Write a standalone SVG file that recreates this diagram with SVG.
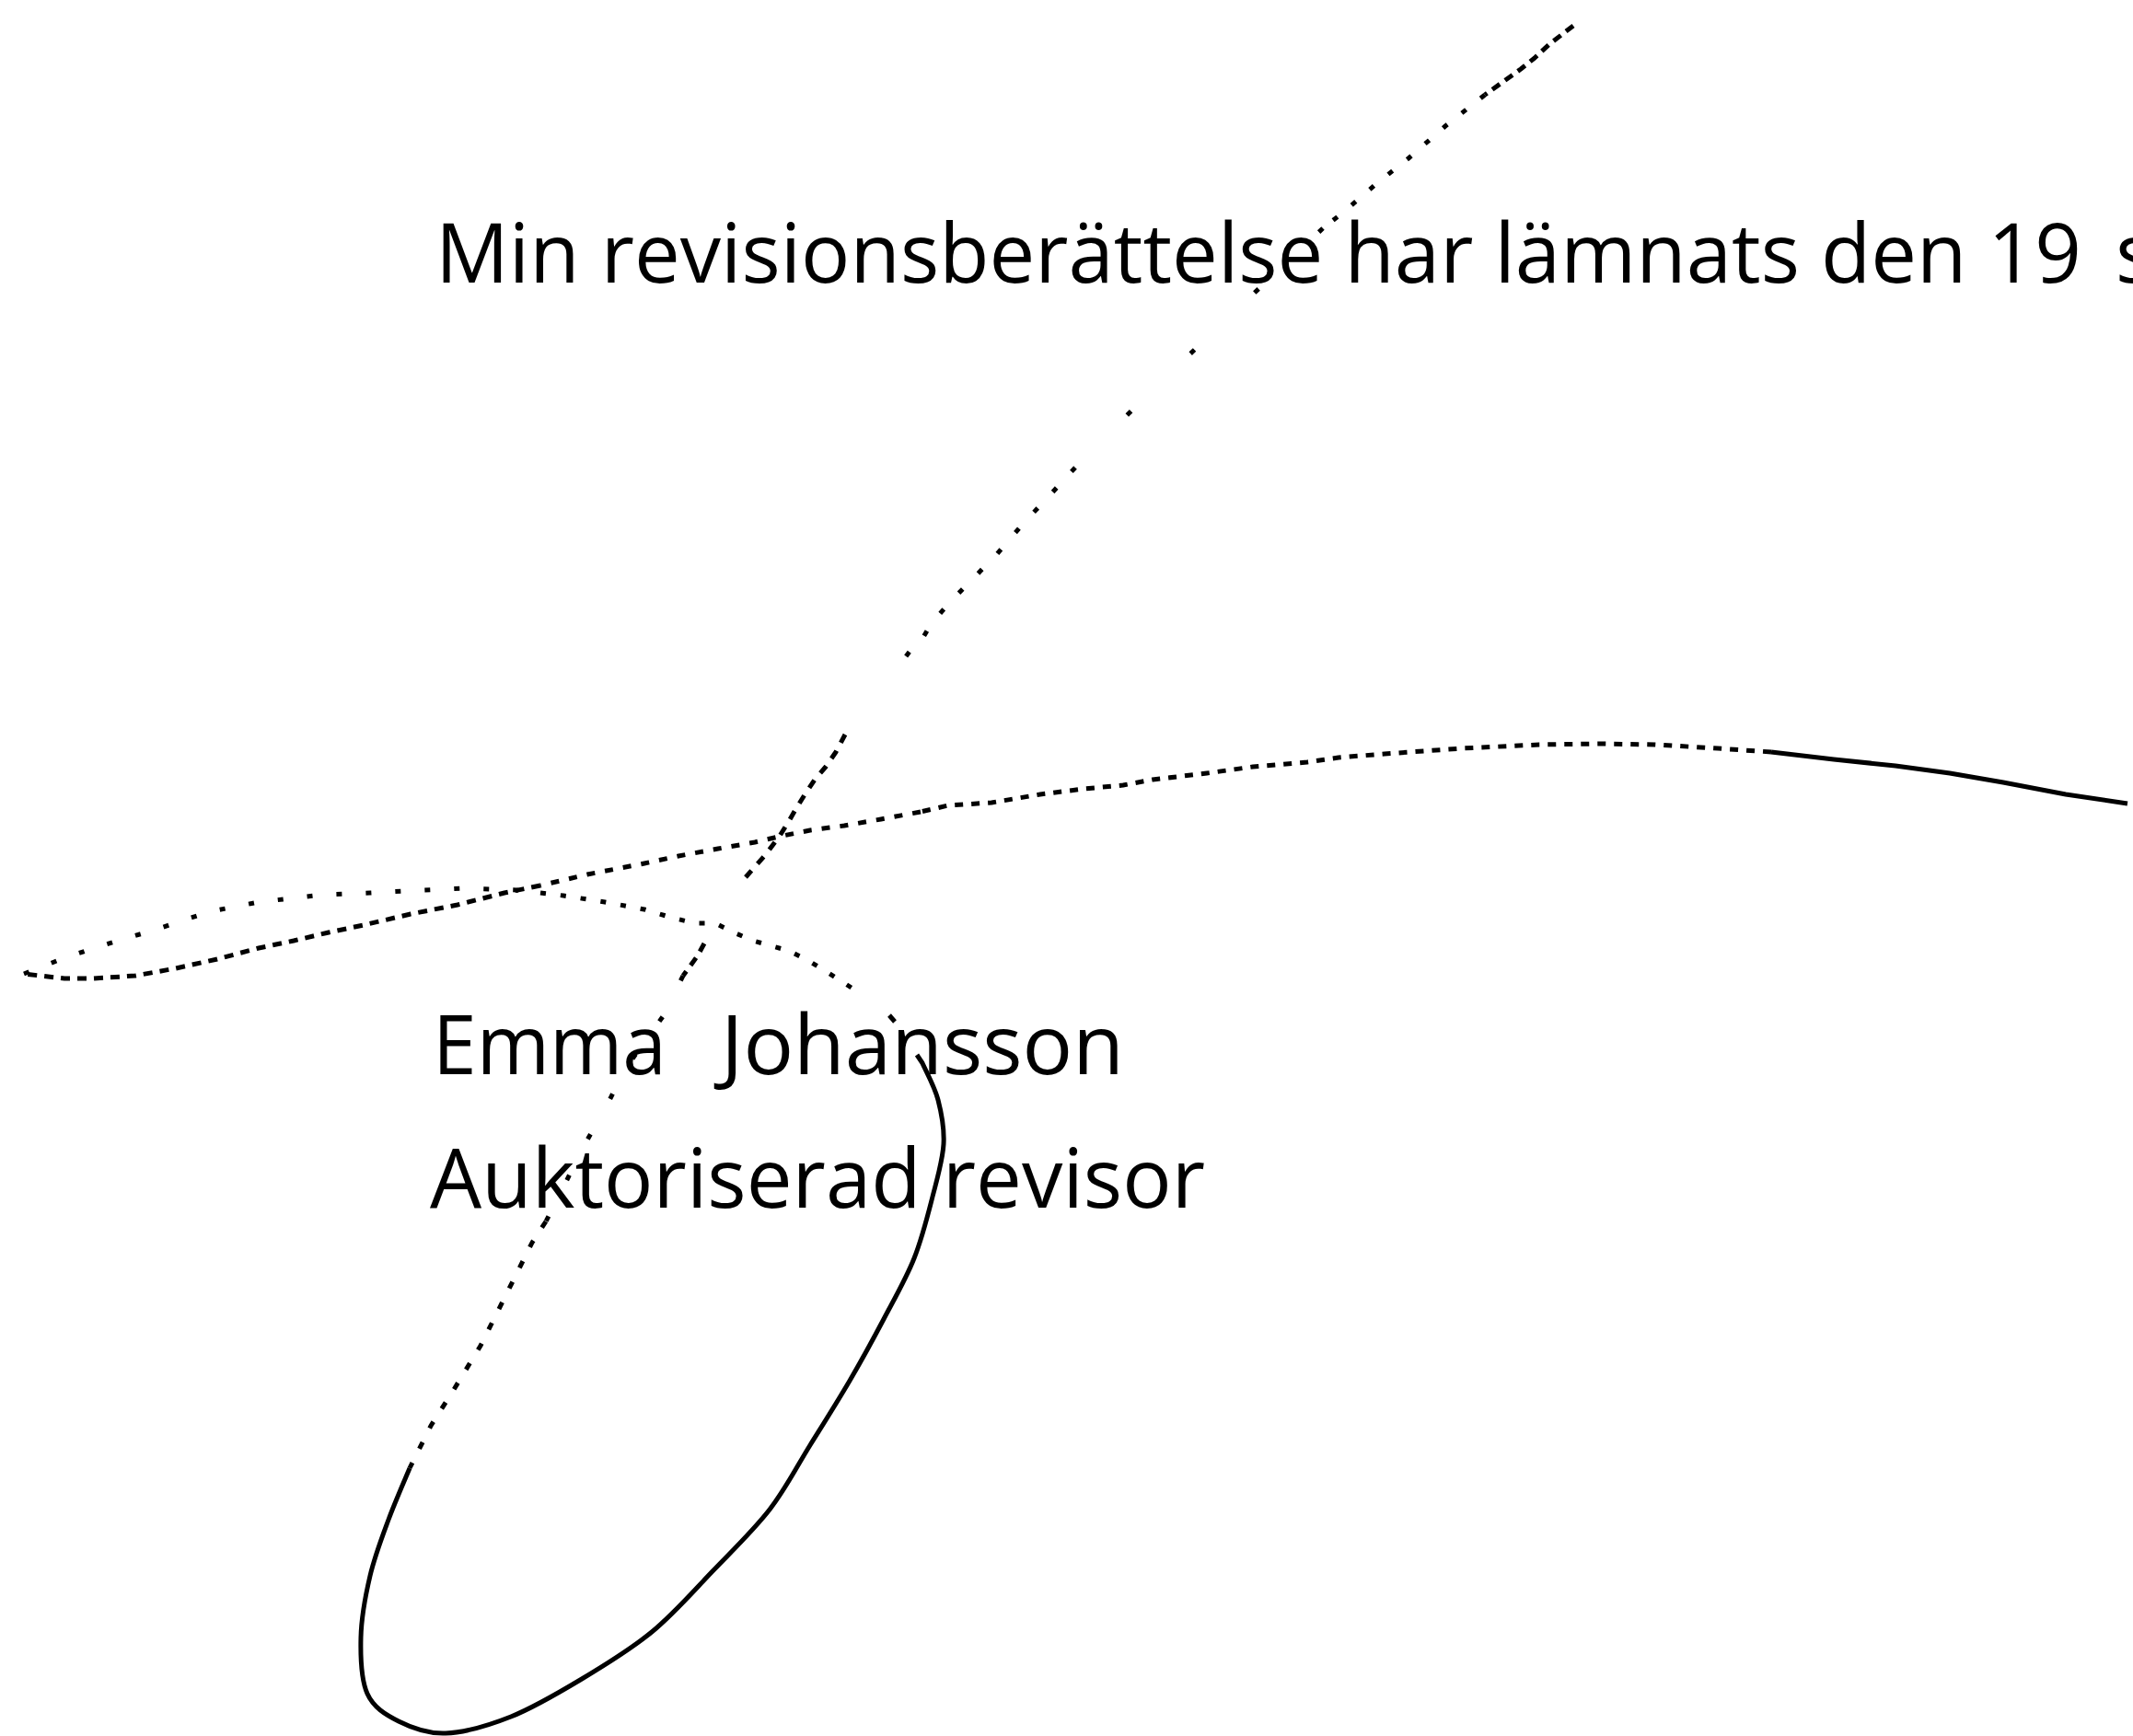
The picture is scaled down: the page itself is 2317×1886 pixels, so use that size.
<svg xmlns="http://www.w3.org/2000/svg" width="2317" height="1886" viewBox="0 0 2317 1886">
<style>
.t{font-family:"Open Sans","Noto Sans","Liberation Sans",sans-serif;font-size:90px;fill:#000}
.s{fill:none;stroke:#000;stroke-width:5;stroke-linecap:butt;stroke-linejoin:round}
</style>
<rect width="2317" height="1886" fill="#fff"/>
<g id="texts">
<text class="t" x="473" y="307" textLength="1788" lengthAdjust="spacingAndGlyphs">Min revisionsberättelse har lämnats den 19</text>
<text class="t" x="2298" y="307">s</text>
<text class="t" x="470" y="1167"><tspan x="470" textLength="254" lengthAdjust="spacingAndGlyphs">Emma</tspan><tspan x="783" textLength="438" lengthAdjust="spacingAndGlyphs">Johansson</tspan></text>
<text class="t" x="467" y="1312" textLength="842" lengthAdjust="spacingAndGlyphs">Auktoriserad revisor</text>
</g>
<g id="signature">
<path class="s" stroke-dasharray="10 7" d="M1709,28 L1683,48 L1667,63 L1652,75 L1613,103"/>
<path class="s" stroke-dasharray="6 20" d="M1613,103 L1570,137 L1530,172 L1497,198 L1475,217 L1460,230 L1437,248"/>
<path class="s" stroke-dasharray="6 90" d="M1437,248 L1350,330 L1287,390 L1215,460 L1168,508"/>
<path class="s" stroke-dasharray="6 24" d="M1168,508 L1133,546 L1113,567 L1082,603 L1033,653 L1012,677 L1000,697 L988,708 L975,725"/>
<path class="s" stroke-dasharray="10 10" d="M918,798 L908,817 L897,833 L885,847 L875,862 L865,878 L857,892 L847,908 L832,928 L810,953"/>
<path class="s" stroke-dasharray="10 8" d="M765,1025 L758,1038 L742,1060"/>
<path class="s" stroke-dasharray="6 44" d="M742,1060 L721,1103 L680,1160 L656,1207 L637,1240 L593,1327"/>
<path class="s" stroke-dasharray="8 17" d="M593,1327 L578,1350 L550,1406 L522,1462 L494,1508 L468,1549 L445,1595"/>
<path class="s" d="M445,1595 C441.2,1604.3 429.2,1631.5 422,1651 C414.8,1670.5 407,1690.7 402,1712 C397,1733.3 392.5,1757.7 392,1779 C391.5,1800.3 392.2,1824.8 399,1840 C405.8,1855.2 418.8,1862.8 433,1870 C447.2,1877.2 463.7,1883.8 484,1883 C504.3,1882.2 530.3,1874.8 555,1865 C579.7,1855.2 606.5,1839.3 632,1824 C657.5,1808.7 684.3,1792.5 708,1773 C731.7,1753.5 752.7,1729.2 774,1707 C795.3,1684.8 818.3,1662.8 836,1640 C853.7,1617.2 865.5,1593.3 880,1570 C894.5,1546.7 909.7,1522.8 923,1500 C936.3,1477.2 948.3,1455.2 960,1433 C971.7,1410.8 984.2,1389.2 993,1367 C1001.8,1344.8 1007.7,1320.7 1013,1300 C1018.3,1279.3 1024,1260.5 1025,1243 C1026,1225.5 1022.8,1209.7 1019,1195 C1015.2,1180.3 1004.8,1161.7 1002,1155 L996,1146"/>
<path class="s" stroke-width="3" d="M966,1103 L972,1110"/>
<path class="s" d="M2311,873 L2244,863 L2176,850 L2118,840 L2059,832 L1992,825 L1924,817"/>
<path class="s" stroke-dasharray="9 9" d="M1924,817 L1866,813 L1798,809 L1739,808 L1672,809 L1588,813 L1504,819 L1454,823 L1420,828 L1361,833 L1311,840 L1252,847 L1220,853 L1177,857 L1130,863 L1077,872 L1030,875 L1000,882"/>
<path class="s" stroke-dasharray="9 11" d="M1000,882 L957,890 L917,897 L880,902 L850,908 L820,915 L780,922 L737,930 L700,938 L638,950 L587,962"/>
<path class="s" stroke-dasharray="10 8" d="M587,962 L548,970 L497,983 L446,993 L395,1005 L357,1013 L319,1022 L281,1030 L236,1042 L191,1052 L147,1060 L102,1063 L70,1063 L26,1058"/>
<path class="s" stroke-dasharray="6 26" d="M26,1058 L64,1043 L96,1032 L128,1022 L169,1010 L204,998 L230,990 L281,980 L351,972 L402,970 L459,967 L504,965 L561,967 L587,970"/>
<path class="s" stroke-dasharray="6 16" d="M587,970 L612,973 L657,980 L700,988 L730,997 L755,1003 L777,1003 L797,1013 L818,1022 L857,1033 L877,1043 L900,1057 L931,1077"/>
</g>
</svg>
